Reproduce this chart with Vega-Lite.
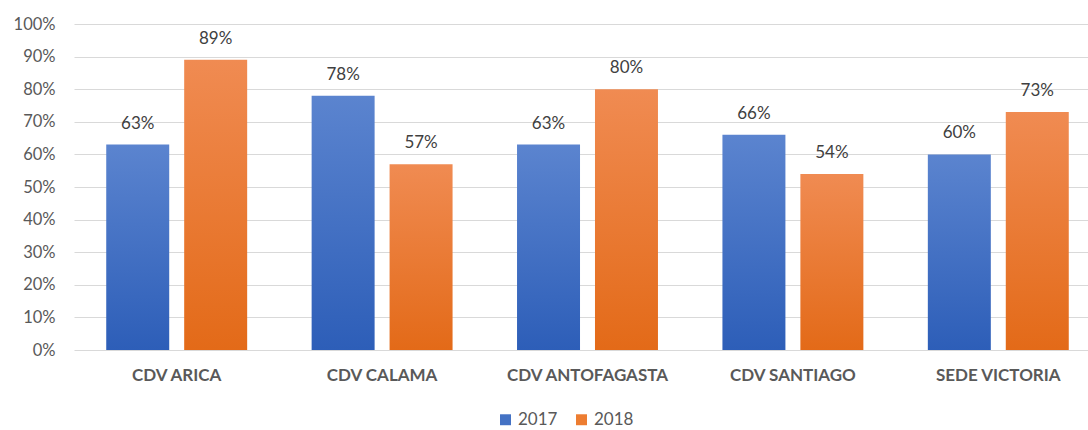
{
  "$schema": "https://vega.github.io/schema/vega-lite/v6.json",
  "width": 1027,
  "height": 326,
  "autosize": {"type": "none"},
  "padding": {"left": 74, "top": 24, "right": 0, "bottom": 80},
  "background": "white",
  "config": {
    "view": {"stroke": null},
    "font": "Lato",
    "axis": {"labelFont": "Lato", "labelColor": "#595959"}
  },
  "data": {
    "values": [
      {"site": "CDV ARICA", "year": "2017", "value": 0.63},
      {"site": "CDV ARICA", "year": "2018", "value": 0.89},
      {"site": "CDV CALAMA", "year": "2017", "value": 0.78},
      {"site": "CDV CALAMA", "year": "2018", "value": 0.57},
      {"site": "CDV ANTOFAGASTA", "year": "2017", "value": 0.63},
      {"site": "CDV ANTOFAGASTA", "year": "2018", "value": 0.80},
      {"site": "CDV SANTIAGO", "year": "2017", "value": 0.66},
      {"site": "CDV SANTIAGO", "year": "2018", "value": 0.54},
      {"site": "SEDE VICTORIA", "year": "2017", "value": 0.60},
      {"site": "SEDE VICTORIA", "year": "2018", "value": 0.73}
    ]
  },
  "encoding": {
    "x": {
      "field": "site", "type": "nominal", "sort": null,
      "scale": {"paddingInner": 0, "paddingOuter": 0},
      "axis": {"title": null, "labelAngle": 0, "ticks": false, "domain": false, "labelPadding": 17,
               "labelFontSize": 17, "labelFontWeight": "bold", "labelColor": "#595959"}
    },
    "xOffset": {
      "field": "year", "type": "nominal",
      "scale": {"domain": ["2017", "2018"], "paddingInner": 0.192, "paddingOuter": 0.4135}
    },
    "y": {
      "field": "value", "type": "quantitative",
      "scale": {"domain": [0, 1], "nice": false},
      "axis": {"title": null, "format": ".0%", "values": [0,0.1,0.2,0.3,0.4,0.5,0.6,0.7,0.8,0.9,1],
               "labelOverlap": false, "labelBound": false,
               "ticks": false, "domain": false, "labelPadding": 19, "labelFontSize": 16.5,
               "gridColor": "#d9d9d9", "gridWidth": 1}
    }
  },
  "layer": [
    {
      "transform": [{"filter": "datum.year == '2017'"}],
      "mark": {
        "type": "bar",
        "color": {"gradient": "linear", "x1": 0, "y1": 0, "x2": 0, "y2": 1,
                  "stops": [{"offset": 0, "color": "#5b84cf"}, {"offset": 1, "color": "#2d5eb8"}]}
      }
    },
    {
      "transform": [{"filter": "datum.year == '2018'"}],
      "mark": {
        "type": "bar",
        "color": {"gradient": "linear", "x1": 0, "y1": 0, "x2": 0, "y2": 1,
                  "stops": [{"offset": 0, "color": "#f08b52"}, {"offset": 1, "color": "#e36a18"}]}
      }
    },
    {
      "mark": {"type": "bar", "opacity": 0},
      "encoding": {
        "color": {
          "field": "year", "type": "nominal",
          "scale": {"domain": ["2017", "2018"], "range": ["#4472c4", "#ed7d31"]},
          "legend": {
            "title": null, "orient": "none", "direction": "horizontal",
            "legendX": 423, "legendY": 387,
            "symbolType": "square", "symbolSize": 120, "symbolOpacity": 1, "symbolStrokeWidth": 0,
            "labelFontSize": 17, "labelColor": "#595959", "labelFont": "Lato",
            "columnPadding": 15, "labelOffset": 4
          }
        }
      }
    },
    {
      "mark": {"type": "text", "baseline": "bottom", "dy": -12, "fontSize": 17, "color": "#404040", "font": "Lato"},
      "encoding": {
        "text": {"field": "value", "type": "quantitative", "format": ".0%"}
      }
    }
  ]
}
